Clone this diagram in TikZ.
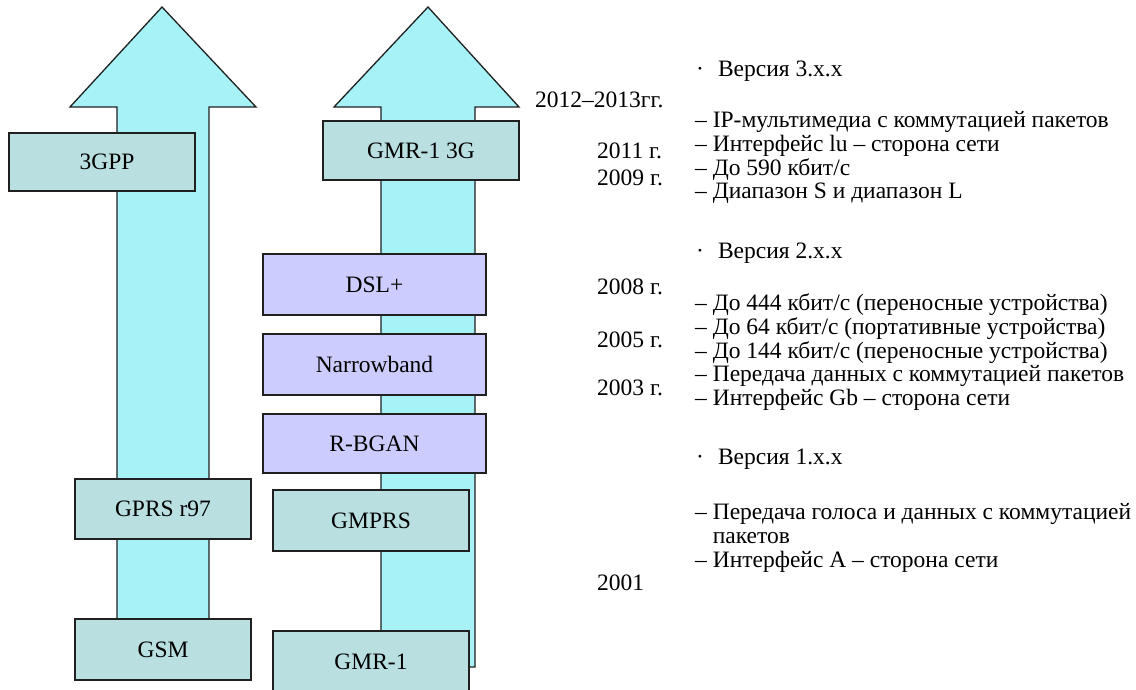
\documentclass[tikz,border=0pt]{standalone}
\usepackage{fontspec}
\setmainfont{Liberation Serif}
\usetikzlibrary{positioning}
\definecolor{arrowCyan}{HTML}{A6F2F7}
\definecolor{boxTeal}{HTML}{B9DFE1}
\definecolor{boxLilac}{HTML}{CCCCFF}
\definecolor{lineDark}{HTML}{202020}
\tikzset{
  bigArrow/.style={draw=lineDark, fill=arrowCyan, line width=1.3pt, line join=miter},
  boxT/.style={rectangle, draw=lineDark, fill=boxTeal, line width=1.3pt,
               inner sep=0pt, font=\fontsize{23.5}{25}\selectfont},
  boxL/.style={boxT, fill=boxLilac},
  yearT/.style={anchor=west, inner sep=0pt, text height=16pt, text depth=5.5pt,
                font=\fontsize{23.5}{25}\selectfont},
  itemT/.style={yearT},
  nextItem/.style={itemT, below=2pt of #1.south west, anchor=north west},
}

\begin{document}
\begin{tikzpicture}[x=1pt, y=-1pt]
  \clip (0,0) rectangle (1136,690);
  \fill[white] (0,0) rectangle (1136,690);

  % the two evolution arrows
  \coordinate (tipGsm) at (162,7);
  \coordinate (tipGmr) at (428,7);
  \draw[bigArrow] (117,655) -- (117,107) -- (70,107) -- (tipGsm)
    -- (256,107) -- (209,107) -- (209,655) -- cycle;
  \draw[bigArrow] (381,667) -- (381,107) -- (334,107) -- (tipGmr)
    -- (519,107) -- (475,107) -- (475,667) -- cycle;

  % terrestrial line
  \node[boxT, minimum width=186, minimum height=58] (gpp) at (102,162) {\hspace{10pt}3GPP};
  \node[boxT, minimum width=176, minimum height=60] (gprs) at (163,509) {GPRS r97};
  \node[boxT, minimum width=176, minimum height=61] (gsm) at (163,649.5) {GSM};

  % satellite line
  \node[boxT, line width=2.2pt, minimum width=196, minimum height=59] (gmr3g) at (421,150.5) {GMR-1 3G};
  \node[boxL, minimum width=223, minimum height=61] (dsl) at (374.5,284.5) {DSL+};
  \node[boxL, minimum width=223, minimum height=61] (nb) at (374.5,364.5) {Narrowband};
  \node[boxL, minimum width=223, minimum height=59] (rbgan) at (374.5,443.5) {R-BGAN};
  \node[boxT, minimum width=196, minimum height=61] (gmprs) at (371,520.5) {GMPRS};
  \node[boxT, minimum width=196, minimum height=62] (gmr) at (371,662) {GMR-1};

  % years
  \node[yearT] (y1213) at (535,102) {2012–2013гг.};
  \node[yearT] (y11) at (597,153) {2011 г.};
  \node[yearT] (y09) at (597,180) {2009 г.};
  \node[yearT] (y08) at (597,289) {2008 г.};
  \node[yearT] (y05) at (597,342) {2005 г.};
  \node[yearT] (y03) at (597,390) {2003 г.};
  \node[yearT] (y01) at (597,585) {2001};

  % release 3
  \node[itemT] (v3) at (696,71) {·\hspace{14pt}Версия 3.x.x};
  \node[itemT] (v3a) at (695,122) {– IP-мультимедиа с коммутацией пакетов};
  \node[nextItem=v3a] (v3b) {– Интерфейс lu – сторона сети};
  \node[nextItem=v3b] (v3c) {– До 590 кбит/с};
  \node[nextItem=v3c] (v3d) {– Диапазон S и диапазон L};

  % release 2
  \node[itemT] (v2) at (696,253) {·\hspace{14pt}Версия 2.x.x};
  \node[itemT] (v2a) at (695,305) {– До 444 кбит/с (переносные устройства)};
  \node[nextItem=v2a] (v2b) {– До 64 кбит/с (портативные устройства)};
  \node[nextItem=v2b] (v2c) {– До 144 кбит/с (переносные устройства)};
  \node[nextItem=v2c] (v2d) {– Передача данных с коммутацией пакетов};
  \node[nextItem=v2d] (v2e) {– Интерфейс Gb – сторона сети};

  % release 1
  \node[itemT] (v1) at (696,459) {·\hspace{14pt}Версия 1.x.x};
  \node[itemT] (v1a) at (695,514) {– Передача голоса и данных с коммутацией};
  \node[nextItem=v1a] (v1b) {\phantom{– }пакетов};
  \node[nextItem=v1b] (v1c) {– Интерфейс A – сторона сети};
\end{tikzpicture}
\end{document}
